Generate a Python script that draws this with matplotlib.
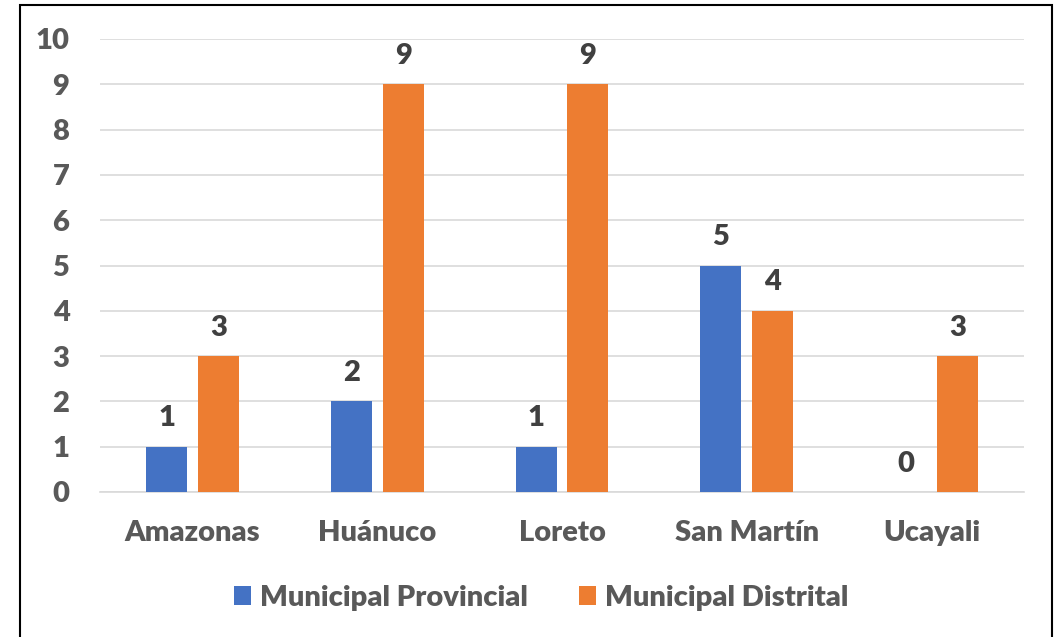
import matplotlib.pyplot as plt
import numpy as np
from matplotlib.patches import Rectangle

categories = ["Amazonas", "Huánuco", "Loreto", "San Martín", "Ucayali"]
provincial = [1, 2, 1, 5, 0]
distrital = [3, 9, 9, 4, 3]
series_names = ["Municipal Provincial", "Municipal Distrital"]
y_ticks = list(range(0, 11))

BLUE = "#4472C4"
ORANGE = "#ED7D31"
TEXT = "#595959"
LABEL = "#404040"
GRID = "#D9D9D9"
FS = 21
WEIGHT = "heavy"

plt.rcParams["font.family"] = ["Lato", "DejaVu Sans"]
plt.rcParams["font.weight"] = WEIGHT

fig = plt.figure(figsize=(10.64, 6.37), dpi=100)
ax = fig.add_axes([100 / 1064, 1 - 492 / 637, 924 / 1064, 453 / 637])

x = np.arange(len(categories))
width = 0.222
offset = 0.14
bars_p = ax.bar(x - offset, provincial, width, color=BLUE, label=series_names[0], zorder=3)
bars_d = ax.bar(x + offset, distrital, width, color=ORANGE, label=series_names[1], zorder=3)

# value labels above each bar
for bars in (bars_p, bars_d):
    for b in bars:
        h = b.get_height()
        ax.text(b.get_x() + b.get_width() / 2, h + 0.34, f"{int(h)}",
                ha="center", va="bottom", fontsize=FS, fontweight=WEIGHT, color=LABEL)

ax.set_xlim(-0.5, len(categories) - 0.5)
ax.set_ylim(0, 10)
ax.set_yticks(y_ticks)
ax.set_xticks(x)
ax.set_xticklabels(categories)
ax.grid(axis="y", color=GRID, linewidth=1.2, zorder=0)
for side in ["top", "right", "left"]:
    ax.spines[side].set_visible(False)
ax.spines["bottom"].set_color(GRID)
ax.spines["bottom"].set_linewidth(1.2)
ax.tick_params(axis="both", length=0, labelsize=FS, labelcolor=TEXT)
ax.tick_params(axis="y", pad=22)
ax.tick_params(axis="x", pad=20)
for lbl in ax.get_xticklabels() + ax.get_yticklabels():
    lbl.set_fontweight(WEIGHT)

fig.legend(handles=[bars_p, bars_d], labels=series_names, loc="center",
           bbox_to_anchor=(541 / 1064, 1 - 598 / 637), ncol=2, frameon=False,
           prop={"weight": WEIGHT, "size": FS}, handlelength=0.6, handleheight=0.6,
           handletextpad=0.3, columnspacing=1.75, labelcolor=TEXT)

fig.add_artist(Rectangle((20 / 1064, -0.01), 1032 / 1064, 1 - 5 / 637 + 0.01,
                         transform=fig.transFigure, fill=False, edgecolor="black", linewidth=1.5))

fig.savefig("out.png", dpi=100)
